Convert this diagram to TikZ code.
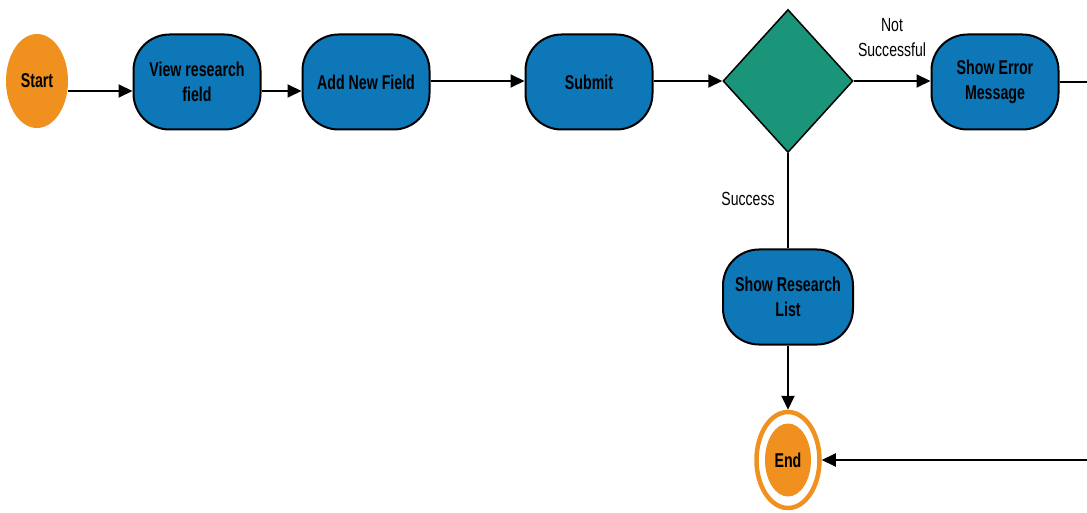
\documentclass[tikz,border=0pt]{standalone}
\usepackage{fontspec}
\setmainfont{Liberation Sans}[FakeStretch=0.71]
\newfontfamily\lblfont{Liberation Sans}[FakeStretch=0.74]
\usetikzlibrary{shapes.geometric,arrows.meta,calc}
\definecolor{cOrange}{HTML}{F0901E}
\definecolor{cBlue}{HTML}{0E77B8}
\definecolor{cTeal}{HTML}{1B957A}
\tikzset{
  term/.style={ellipse, fill=cOrange, font=\bfseries\fontsize{20}{25}\selectfont, inner sep=0pt},
  stepbox/.style={rectangle, rounded corners=36pt, draw=black, line width=2pt, fill=cBlue,
     minimum width=127pt, minimum height=95pt, align=center, inner sep=0pt,
     font=\bfseries\fontsize{20}{25}\selectfont},
  decision/.style={diamond, draw=black, line width=1.5pt, fill=cTeal, aspect=0.91,
     minimum width=130pt, minimum height=143pt, inner sep=0pt},
  conn/.style={line width=2pt, draw=black},
  arr/.style={conn, -{Triangle[length=14pt,width=13pt]}},
  lbl/.style={font=\lblfont\fontsize{19}{25}\selectfont, align=center, inner sep=0pt},
}
\begin{document}
\begin{tikzpicture}[x=1pt,y=-1pt]
\useasboundingbox (0,0) rectangle (1087,513);
\clip (0,0) rectangle (1087,513);
\node[term, minimum width=62pt, minimum height=94pt] (start) at (37,81) {Start};
\node[stepbox] (view) at (197,82) {View research\\field};
\node[stepbox] (add) at (366,82) {Add New Field};
\node[stepbox] (submit) at (589,82) {Submit};
\node[decision] (dec) at (788,81) {};
\node[stepbox] (err) at (995,82) {Show Error\\Message};
\node[stepbox, minimum width=130pt] (list) at (788,297) {Show Research\\List};
\node[term, minimum width=46pt, minimum height=73pt] (end) at (788,460) {End};
\node[ellipse, draw=cOrange, line width=4.5pt, minimum width=63pt, minimum height=96pt, inner sep=0pt] (endring) at (788,460) {};
\coordinate (cR1) at (1092,82);
\coordinate (cR2) at (1092,460);

\draw[arr] (start.east |- 0,91) -- (view.west |- 0,91);
\draw[arr] (view.east |- 0,91) -- (add.west |- 0,91);
\draw[arr] (add.east |- 0,81) -- (submit.west |- 0,81);
\draw[arr] (submit.east |- 0,81) -- (dec.west);
\draw[arr] (dec.east) -- (err.west |- 0,81);
\draw[conn] (dec.south) -- (list.north);
\draw[arr] (list.south) -- (endring.north);
\draw[arr] (err.east) -- (cR1) -- (cR2) -- (endring.east);

\node[lbl] (lblns) at (892,38) {Not\\Successful};
\node[lbl] (lbls) at (748,199) {Success};
\end{tikzpicture}
\end{document}
